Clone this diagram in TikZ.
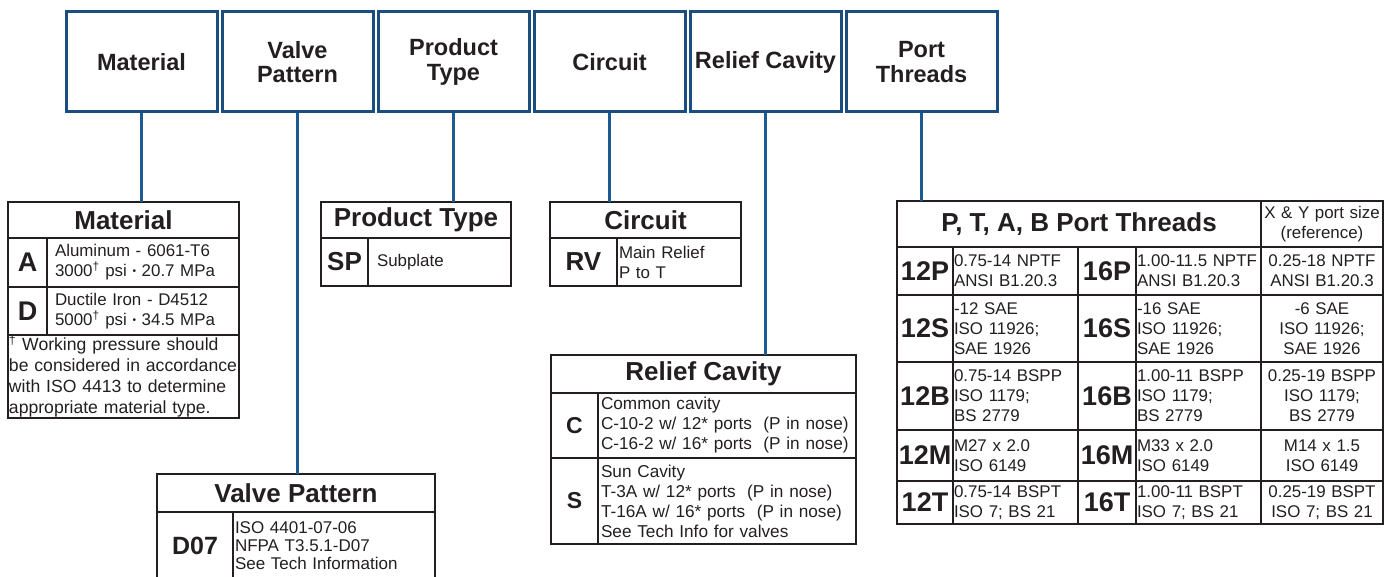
\documentclass[tikz,border=0pt]{standalone}
\usepackage{fontspec}
\setmainfont{Liberation Sans}
\definecolor{ink}{HTML}{231F20}
\definecolor{navy}{HTML}{1B4D7E}
\definecolor{connc}{HTML}{1D5A92}
\newcommand{\dg}{\textsuperscript{†}}
\newcommand{\bul}{\raisebox{0.12em}{\scalebox{0.6}{•}}}
\begin{document}
\begin{tikzpicture}[x=1pt,y=-1pt,
  topbox/.style={draw=navy, line width=3pt, fill=white, minimum width=151pt, minimum height=100pt,
    anchor=north west, inner sep=0pt, align=center, text=ink,
    font=\fontsize{23.5}{24.5}\selectfont\bfseries},
  cell/.style={draw=ink, line width=1.5pt, anchor=north west, inner sep=0pt, outer sep=0pt, text=ink},
  hd/.style={cell, font=\fontsize{26}{28}\selectfont\bfseries},
  code/.style={cell, font=\fontsize{27}{28}\selectfont\bfseries},
  desc/.style={cell, align=left, font=\fontsize{16.9}{20}\selectfont},
  ctr/.style={cell, align=center, font=\fontsize{16.9}{20}\selectfont},
  sz/.style 2 args={minimum width=#1pt, minimum height=#2pt},
  outer/.style={draw=ink, line width=2.3pt},
  connector/.style={draw=connc, line width=2.2pt}
]
\useasboundingbox (0,0) rectangle (1389,577);

% ---------- top row ----------
\node[topbox] (tMat)  at (64.5,10.5)  {Material};
\node[topbox] (tVP)   at (220.5,10.5) {Valve\\Pattern};
\node[topbox] (tPT)   at (376.5,10.5) {Product\\Type};
\node[topbox] (tCir)  at (532.5,10.5) {Circuit};
\node[topbox] (tRC)   at (688.5,10.5) {Relief Cavity};
\node[topbox] (tPort) at (844.5,10.5) {Port\\Threads};

% ---------- Material ----------
\node[hd, sz={231}{36}] (matH) at (8,202) {Material};
\node[code, sz={39}{49}] (matA) at (8,238) {A};
\node[desc, sz={192}{49}, text width=176pt] (matAd) at (47,238) {Aluminum - 6061-T6\\3000\dg{} psi \bul{} 20.7 MPa};
\node[code, sz={39}{48}] (matD) at (8,287) {D};
\node[desc, sz={192}{48}, text width=176pt] (matDd) at (47,287) {Ductile Iron - D4512\\5000\dg{} psi \bul{} 34.5 MPa};
\node[desc, sz={231}{83}, text width=229pt, font=\fontsize{17.6}{21}\selectfont] (matF) at (8,335)
  {\dg{} Working pressure should\\be considered in accordance\\with ISO 4413 to determine\\appropriate material type.};
\draw[outer] (matH.north west) rectangle (matF.south east);

% ---------- Valve Pattern ----------
\node[hd, sz={278}{38}] (vpH) at (157,474) {Valve Pattern};
\node[code, sz={76}{68}, font=\fontsize{25}{26}\selectfont\bfseries] (vpC) at (157,512) {D07};
\node[desc, sz={202}{68}, text width=198pt, font=\fontsize{17}{18}\selectfont] (vpD) at (233,512)
  {ISO 4401-07-06\\NFPA T3.5.1-D07\\See Tech Information};
\draw[outer] (vpH.north west) rectangle (vpD.south east);

% ---------- Product Type ----------
\node[hd, sz={190}{36}] (ptH) at (321,202) {Product Type};
\node[code, sz={47}{48}, font=\fontsize{26}{28}\selectfont\bfseries] (ptC) at (321,238) {SP};
\node[desc, sz={143}{48}, text width=125pt] (ptD) at (368,238) {Subplate};
\draw[outer] (ptH.north west) rectangle (ptD.south east);

% ---------- Circuit ----------
\node[hd, sz={191}{36}] (ciH) at (550,202) {Circuit};
\node[code, sz={67}{48}, font=\fontsize{26}{28}\selectfont\bfseries] (ciC) at (550,238) {RV};
\node[desc, sz={124}{48}, text width=120pt] (ciD) at (617,238) {Main Relief\\P to T};
\draw[outer] (ciH.north west) rectangle (ciD.south east);

% ---------- Relief Cavity ----------
\node[hd, sz={305}{38}] (rcH) at (551,355) {Relief Cavity};
\node[code, sz={47}{65}, font=\fontsize{23}{24}\selectfont\bfseries] (rcC) at (551,393) {C};
\node[desc, sz={258}{65}, text width=252pt, font=\fontsize{17.2}{20}\selectfont] (rcCd) at (598,393)
  {Common cavity\\C-10-2 w/ 12* ports\ \ (P in nose)\\C-16-2 w/ 16* ports\ \ (P in nose)};
\node[code, sz={47}{86}, font=\fontsize{23}{24}\selectfont\bfseries] (rcS) at (551,458) {S};
\node[desc, sz={258}{86}, text width=252pt, font=\fontsize{17.2}{20}\selectfont] (rcSd) at (598,458)
  {Sun Cavity\\T-3A w/ 12* ports\ \ (P in nose)\\T-16A w/ 16* ports\ \ (P in nose)\\See Tech Info for valves};
\draw[outer] (rcH.north west) rectangle (rcSd.south east);

% ---------- Port Threads ----------
\node[hd, sz={364}{46}] (poH) at (897,201) {P, T, A, B Port Threads};
\node[ctr, sz={122}{46}, text width=120pt] (poX) at (1261,201) {X \& Y port size\\(reference)};
% row P
\node[code, sz={56}{48}] (p12P) at (897,247) {12P};
\node[desc, sz={125}{48}, text width=123pt] (d12P) at (953,247) {0.75-14 NPTF\\ANSI B1.20.3};
\node[code, sz={58}{48}] (p16P) at (1078,247) {16P};
\node[desc, sz={125}{48}, text width=123pt] (d16P) at (1136,247) {1.00-11.5 NPTF\\ANSI B1.20.3};
\node[ctr, sz={122}{48}, text width=120pt] (xP) at (1261,247) {0.25-18 NPTF\\ANSI B1.20.3};
% row S
\node[code, sz={56}{67}] (p12S) at (897,295) {12S};
\node[desc, sz={125}{67}, text width=123pt] (d12S) at (953,295) {-12 SAE\\ISO 11926;\\SAE 1926};
\node[code, sz={58}{67}] (p16S) at (1078,295) {16S};
\node[desc, sz={125}{67}, text width=123pt] (d16S) at (1136,295) {-16 SAE\\ISO 11926;\\SAE 1926};
\node[ctr, sz={122}{67}, text width=120pt] (xS) at (1261,295) {-6 SAE\\ISO 11926;\\SAE 1926};
% row B
\node[code, sz={56}{68}] (p12B) at (897,362) {12B};
\node[desc, sz={125}{68}, text width=123pt] (d12B) at (953,362) {0.75-14 BSPP\\ISO 1179;\\BS 2779};
\node[code, sz={58}{68}] (p16B) at (1078,362) {16B};
\node[desc, sz={125}{68}, text width=123pt] (d16B) at (1136,362) {1.00-11 BSPP\\ISO 1179;\\BS 2779};
\node[ctr, sz={122}{68}, text width=120pt] (xB) at (1261,362) {0.25-19 BSPP\\ISO 1179;\\BS 2779};
% row M
\node[code, sz={56}{51}] (p12M) at (897,430) {12M};
\node[desc, sz={125}{51}, text width=123pt] (d12M) at (953,430) {M27 x 2.0\\ISO 6149};
\node[code, sz={58}{51}] (p16M) at (1078,430) {16M};
\node[desc, sz={125}{51}, text width=123pt] (d16M) at (1136,430) {M33 x 2.0\\ISO 6149};
\node[ctr, sz={122}{51}, text width=120pt] (xM) at (1261,430) {M14 x 1.5\\ISO 6149};
% row T
\node[code, sz={56}{43}] (p12T) at (897,481) {12T};
\node[desc, sz={125}{43}, text width=123pt] (d12T) at (953,481) {0.75-14 BSPT\\ISO 7; BS 21};
\node[code, sz={58}{43}] (p16T) at (1078,481) {16T};
\node[desc, sz={125}{43}, text width=123pt] (d16T) at (1136,481) {1.00-11 BSPT\\ISO 7; BS 21};
\node[ctr, sz={122}{43}, text width=120pt] (xT) at (1261,481) {0.25-19 BSPT\\ISO 7; BS 21};
\draw[outer] (poH.north west) rectangle (xT.south east);
\draw[outer] (poH.south west) -- (poX.south east);
\draw[outer] (p16P.north west) -- (p16T.south west);
\draw[outer] (poX.north west) -- (xT.south west);

% ---------- connectors ----------
\draw[connector] (tMat.south)  -- (tMat.south  |- matH.north);
\draw[connector] (tVP.south)   -- (tVP.south   |- vpH.north);
\draw[connector] (tPT.south)   -- (tPT.south   |- ptH.north);
\draw[connector] (tCir.south)  -- (tCir.south  |- ciH.north);
\draw[connector] (tRC.south)   -- (tRC.south   |- rcH.north);
\draw[connector] (tPort.south) -- (tPort.south |- poH.north);
\end{tikzpicture}
\end{document}
